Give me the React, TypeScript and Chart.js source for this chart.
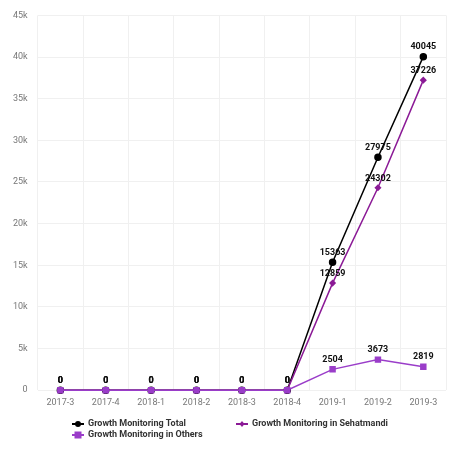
import React, { useEffect, useRef } from "react";
import { Chart, registerables } from "chart.js";

Chart.register(...registerables);

const categories = ["2017-3", "2017-4", "2018-1", "2018-2", "2018-3", "2018-4", "2019-1", "2019-2", "2019-3"];
const totalValues = [0, 0, 0, 0, 0, 0, 15363, 27975, 40045];
const sehatmandiValues = [0, 0, 0, 0, 0, 0, 12859, 24302, 37226];
const othersValues = [0, 0, 0, 0, 0, 0, 2504, 3673, 2819];
const yTicks = [0, 5000, 10000, 15000, 20000, 25000, 30000, 35000, 40000, 45000];

const FONT = "Roboto, 'Noto Sans', sans-serif";

const dataLabelPlugin = {
  id: "dataLabels",
  afterDatasetsDraw(chart: any) {
    const ctx = chart.ctx;
    ctx.save();
    ctx.font = `bold 9px ${FONT}`;
    ctx.fillStyle = "#111";
    ctx.textAlign = "center";
    ctx.textBaseline = "bottom";
    chart.data.datasets.forEach((ds: any, i: number) => {
      const meta = chart.getDatasetMeta(i);
      meta.data.forEach((pt: any, j: number) => {
        ctx.fillText(String(ds.data[j]), pt.x, pt.y - 5);
      });
    });
    ctx.restore();
  },
};

const legendPlugin = {
  id: "customLegend",
  afterDraw(chart: any) {
    const ctx = chart.ctx;
    const items = [
      { label: "Growth Monitoring Total", color: "#000000", style: "circle", x: 72, y: 424 },
      { label: "Growth Monitoring in Sehatmandi", color: "#8b1a96", style: "diamond", x: 236, y: 424 },
      { label: "Growth Monitoring in Others", color: "#9a3dc9", style: "rect", x: 72, y: 435 },
    ];
    ctx.save();
    items.forEach((it) => {
      ctx.strokeStyle = it.color;
      ctx.fillStyle = it.color;
      ctx.lineWidth = 2;
      ctx.beginPath();
      ctx.moveTo(it.x, it.y);
      ctx.lineTo(it.x + 12, it.y);
      ctx.stroke();
      const cx = it.x + 6;
      ctx.beginPath();
      if (it.style === "circle") {
        ctx.arc(cx, it.y, 3, 0, Math.PI * 2);
      } else if (it.style === "diamond") {
        ctx.moveTo(cx, it.y - 3);
        ctx.lineTo(cx + 2.5, it.y);
        ctx.lineTo(cx, it.y + 3);
        ctx.lineTo(cx - 2.5, it.y);
        ctx.closePath();
      } else {
        ctx.rect(cx - 3.5, it.y - 3.5, 7, 7);
      }
      ctx.fill();
      ctx.font = `bold 9px ${FONT}`;
      ctx.fillStyle = "#333";
      ctx.textAlign = "left";
      ctx.textBaseline = "middle";
      ctx.fillText(it.label, it.x + 16, it.y);
    });
    ctx.restore();
  },
};

export default function App() {
  const ref = useRef<HTMLCanvasElement>(null);
  useEffect(() => {
    if (!ref.current) return;
    const chart = new Chart(ref.current, {
      type: "line",
      data: {
        labels: categories,
        datasets: [
          {
            label: "Growth Monitoring Total",
            data: totalValues,
            borderColor: "#000000",
            backgroundColor: "#000000",
            borderWidth: 1.5,
            pointStyle: "circle",
            pointRadius: 3,
            tension: 0,
            order: 2,
            clip: false,
          },
          {
            label: "Growth Monitoring in Sehatmandi",
            data: sehatmandiValues,
            borderColor: "#8b1a96",
            backgroundColor: "#8b1a96",
            borderWidth: 1.5,
            pointStyle: "rectRot",
            pointRadius: 2.5,
            tension: 0,
            order: 1,
            clip: false,
          },
          {
            label: "Growth Monitoring in Others",
            data: othersValues,
            borderColor: "#9a3dc9",
            backgroundColor: "#9a3dc9",
            borderWidth: 1.5,
            pointStyle: "rect",
            pointRadius: 3.5,
            tension: 0,
            order: 0,
            clip: false,
          },
        ],
      },
      options: {
        animation: false,
        responsive: false,
        layout: { padding: { top: 8, left: 3, right: 24, bottom: 59 } },
        plugins: { legend: { display: false }, tooltip: { enabled: false } },
        scales: {
          x: {
            offset: true,
            grid: { offset: true, color: "#f0f0f0", drawTicks: false },
            border: { display: false },
            ticks: { color: "#777", font: { size: 9, family: FONT }, padding: 7, maxRotation: 0 },
          },
          y: {
            min: 0,
            max: 45000,
            afterBuildTicks: (axis: any) => {
              axis.ticks = yTicks.map((v) => ({ value: v }));
            },
            grid: { color: "#f0f0f0", drawTicks: false },
            border: { display: false },
            ticks: {
              color: "#777",
              font: { size: 9, family: FONT },
              padding: 10,
              callback: (v: any) => (v === 0 ? "0" : v / 1000 + "k"),
            },
          },
        },
      },
      plugins: [dataLabelPlugin, legendPlugin],
    });
    return () => chart.destroy();
  }, []);
  return (
    <div style={{ position: "fixed", left: 0, top: 0, width: 470, height: 474, background: "#fff" }}>
      <canvas ref={ref} width={470} height={474} style={{ width: 470, height: 474 }} />
    </div>
  );
}
